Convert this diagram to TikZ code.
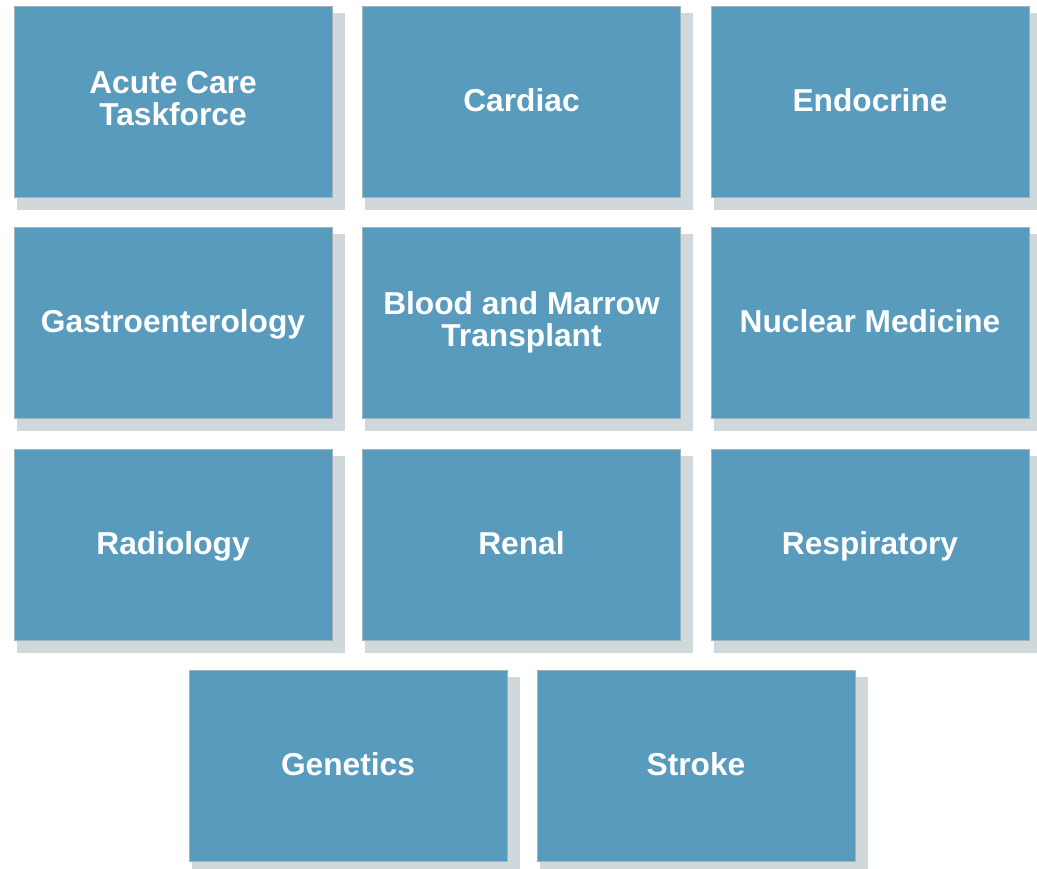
\documentclass[tikz,border=0pt]{standalone}
\usepackage{fontspec}
\setmainfont{Liberation Sans}
\definecolor{boxc}{RGB}{88,155,189}
\definecolor{shadc}{RGB}{208,216,219}
\definecolor{edgec}{RGB}{160,180,190}
\newcommand{\cardstrut}{\rule[-6.5pt]{0pt}{33pt}}
\begin{document}
\begin{tikzpicture}[x=1pt,y=-1pt,
  card/.style={rectangle,fill=boxc,draw=edgec,line width=0.8pt,minimum width=318pt,minimum height=191pt,inner sep=0pt,
    text=white,align=center,font=\fontsize{31.7}{31.5}\selectfont\bfseries,
    execute at begin node=\cardstrut, execute at end node=\cardstrut}]
\useasboundingbox (0,0) rectangle (1037,869);
% shadows
\foreach \x/\y in {14/6,362/6,711/6,14/227,362/227,711/227,14/449,362/449,711/449,189/670,537/670}{
  \fill[shadc] (\x+3,\y+7) rectangle (\x+331,\y+204);
}
\node[card] (acute) at (173,101.5) {Acute Care\\Taskforce};
\node[card] (cardiac) at (521.5,101.5) {Cardiac};
\node[card] (endo) at (870,101.5) {Endocrine};
\node[card] (gastro) at (173,322.5) {Gastroenterology};
\node[card] (blood) at (521.5,322.5) {Blood and Marrow\\Transplant};
\node[card] (nuclear) at (870,322.5) {Nuclear Medicine};
\node[card] (radio) at (173,544.5) {Radiology};
\node[card] (renal) at (521.5,544.5) {Renal};
\node[card] (resp) at (870,544.5) {Respiratory};
\node[card] (genetics) at (348,765.5) {Genetics};
\node[card] (stroke) at (696,765.5) {Stroke};
\end{tikzpicture}
\end{document}
